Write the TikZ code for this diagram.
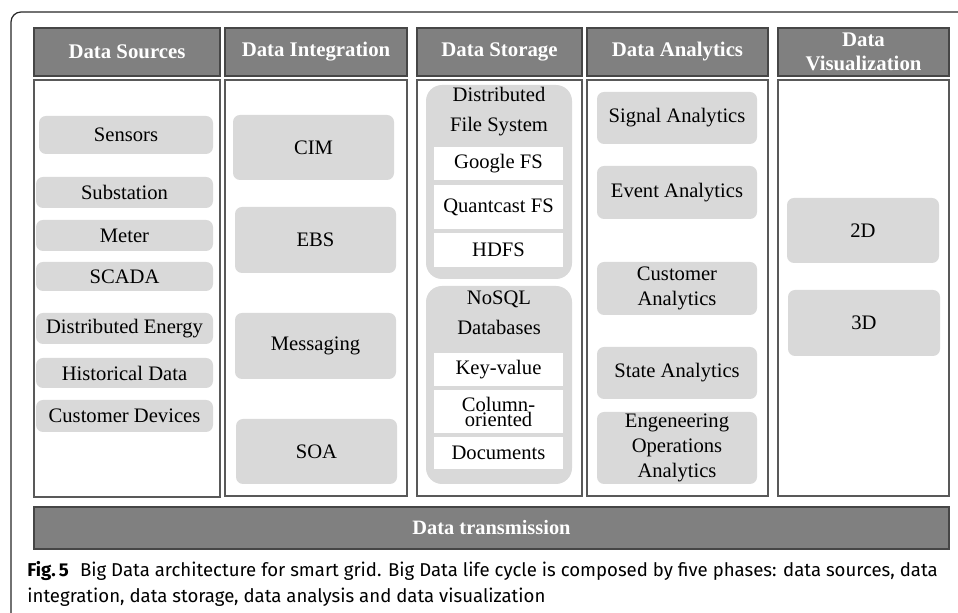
\documentclass[tikz,border=0pt]{standalone}
\usepackage{fontspec}
\setmainfont{Liberation Serif}
\newfontfamily\capfont{Fira Sans}

\tikzset{
  % box given by its corners in pixels: x1/y1/x2/y2
  spot/.style args={#1/#2/#3/#4}{at={({(#1+#3)/2},{(#2+#4)/2})},
    minimum width={(#3-#1)*0.5pt}, minimum height={(#4-#2)*0.5pt}},
  head/.style={draw=gray!55!black, fill=gray, text=white, line width=0.6pt,
    inner sep=0pt, align=center, font=\fontsize{10.4}{12.3}\selectfont\bfseries},
  colbox/.style={draw=gray!70!black, line width=0.8pt, inner sep=0pt},
  item/.style={fill=gray!30, rounded corners=3.5pt, inner sep=0pt, align=center,
    font=\fontsize{10.3}{12.3}\selectfont},
  grp/.style={fill=gray!30, rounded corners=8pt, inner sep=0pt},
  cell/.style={fill=white, inner sep=0pt, align=center,
    font=\fontsize{10.3}{12.3}\selectfont},
}

\begin{document}
\begin{tikzpicture}[x=0.5pt, y=-0.5pt]
  \clip (0,0) rectangle (958,613);
  % outer frame of the figure
  \draw[black!85, line width=0.6pt, rounded corners=5pt] (11,660) |- (1010,12);

  % headers
  \node[head, spot=34/28/220/76]  (hSrc) {Data Sources};
  \node[head, spot=225/28/407/76] (hInt) {Data Integration};
  \node[head, spot=417/28/582/76] (hSto) {Data Storage};
  \node[head, spot=587/28/768/76] (hAna) {Data Analytics};
  \node[head, spot=778/28/949/76] (hVis) {Data\\Visualization};

  % column bodies
  \node[colbox, spot=34/80/220/497]  (cSrc) {};
  \node[colbox, spot=225/80/407/496] (cInt) {};
  \node[colbox, spot=417/80/582/496] (cSto) {};
  \node[colbox, spot=587/80/768/496] (cAna) {};
  \node[colbox, spot=778/80/949/496] (cVis) {};

  % data sources
  \node[item, spot=39/116/213/154] (sensors) {Sensors};
  \node[item, spot=36/177/213/208] (substation) {Substation};
  \node[item, spot=36/220/213/251] (meter) {Meter};
  \node[item, spot=36/262/213/291] (scada) {SCADA};
  \node[item, spot=36/313/213/344] (distEnergy) {Distributed Energy};
  \node[item, spot=36/358/213/388] (histData) {Historical\ Data};
  \node[item, spot=36/400/213/432] (custDev) {Customer Devices};

  % data integration
  \node[item, spot=233/115/394/180] (cim) {CIM};
  \node[item, spot=235/207/396/273] (ebs) {EBS};
  \node[item, spot=235/313/396/379] (msg) {Messaging};
  \node[item, spot=236/419/397/484] (soa) {SOA};

  % data storage
  \node[grp, spot=426/85/572/279] (gDfs) {};
  \node[cell, fill=none] (lDfs) at (499,112) {Distributed\\[2.7pt]File System};
  \node[cell, spot=434/147/563/180] (gfs) {Google FS};
  \node[cell, spot=434/185/563/229] (qfs) {Quantcast FS};
  \node[cell, spot=434/233/563/267] (hdfs) {HDFS};
  \node[grp, spot=426/286/572/484] (gNosql) {};
  \node[cell, fill=none] (lNosql) at (499,313) {NoSQL\\[2.7pt]Databases};
  \node[cell, spot=434/353/563/386] (kv) {Key-value};
  \node[cell, spot=434/390/563/433, font=\fontsize{10.3}{7.5}\selectfont] (colOr) {Column-\\oriented};
  \node[cell, spot=434/437/563/469] (docs) {Documents};

  % data analytics
  \node[item, spot=597/92/757/144]  (signal) {Signal Analytics};
  \node[item, spot=597/166/757/219] (event) {Event Analytics};
  \node[item, spot=597/262/757/315] (customer) {Customer\\Analytics};
  \node[item, spot=597/347/757/399] (state) {State Analytics};
  \node[item, spot=597/412/757/484] (engOps) {Engeneering\\Operations\\Analytics};

  % data visualization
  \node[item, spot=787/198/939/263] (twoD) {2D};
  \node[item, spot=788/290/940/356] (threeD) {3D};

  % bottom bar
  \node[head, spot=34/507/949/549, font=\fontsize{10.2}{12}\selectfont\bfseries] (trans) {Data transmission};

  % caption
  \node[anchor=base west, align=left, inner sep=0pt,
    font=\capfont\fontsize{9.3}{13}\selectfont] (caption) at (27,603)
    {{\bfseries Fig.\,5}\hspace{0.6em}Big Data architecture for smart grid. Big Data life cycle is composed by five phases: data sources, data\\
     integration, data storage, data analysis and data visualization};
\end{tikzpicture}
\end{document}
